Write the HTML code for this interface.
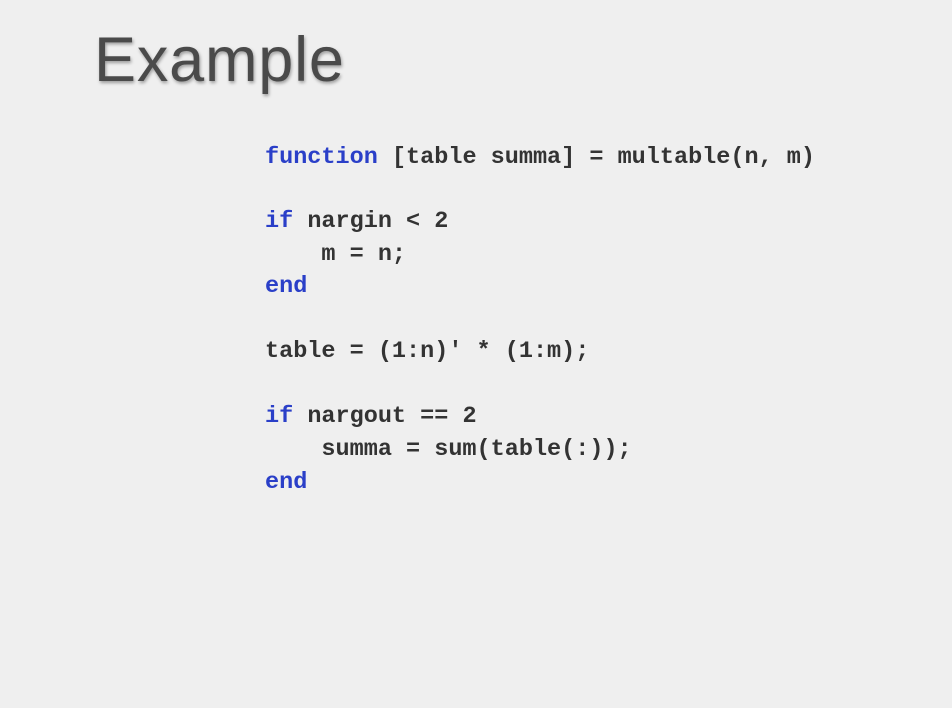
<!DOCTYPE html>
<html><head><style>
html,body{margin:0;padding:0;}
body{width:952px;height:708px;background:#efefef;position:relative;overflow:hidden;}
.t{position:absolute;left:94px;top:20px;font-family:"Liberation Sans",sans-serif;font-size:63px;letter-spacing:0.8px;color:#4a4a4a;text-shadow:1px 2px 3px rgba(0,0,0,0.35);line-height:80px;}
.c{position:absolute;left:265px;font-family:"Liberation Mono",monospace;font-weight:bold;font-size:23.5px;color:#333;line-height:32px;height:32px;white-space:pre;}
.k{color:#2a3fc8;}
</style></head><body>
<div class="t">Example</div>
<div class="c" style="top:142px"><span class="k">function</span> [table summa] = multable(n, m)</div>
<div class="c" style="top:206px"><span class="k">if</span> nargin &lt; 2</div>
<div class="c" style="top:239px">    m = n;</div>
<div class="c" style="top:271px"><span class="k">end</span></div>
<div class="c" style="top:336px">table = (1:n)' * (1:m);</div>
<div class="c" style="top:401px"><span class="k">if</span> nargout == 2</div>
<div class="c" style="top:434px">    summa = sum(table(:));</div>
<div class="c" style="top:467px"><span class="k">end</span></div>
</body></html>
